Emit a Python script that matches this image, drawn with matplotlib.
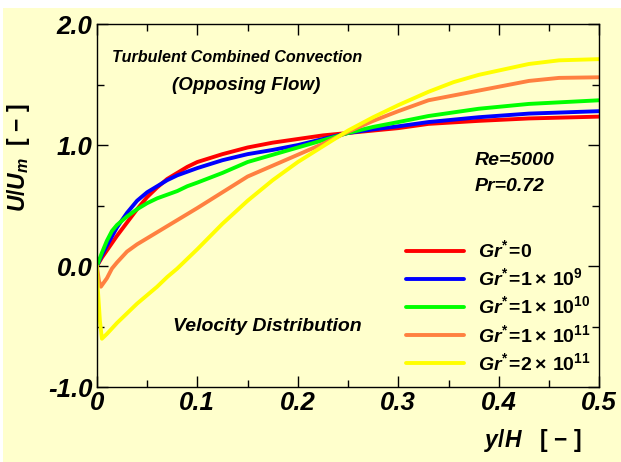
import numpy as np
import matplotlib
matplotlib.use("Agg")
import matplotlib.pyplot as plt
from matplotlib.patches import Rectangle

plt.rcParams['font.family'] = ['Liberation Sans', 'DejaVu Sans']
plt.rcParams['mathtext.fontset'] = 'custom'
plt.rcParams['mathtext.it'] = 'Liberation Sans:bold:italic'
plt.rcParams['mathtext.rm'] = 'Liberation Sans:bold'
plt.rcParams['mathtext.bf'] = 'Liberation Sans:bold'
plt.rcParams['axes.unicode_minus'] = False

# y/H positions and U/Um values
x_red = [0, 0.005, 0.01, 0.02, 0.03, 0.04, 0.05, 0.06, 0.07, 0.08, 0.09, 0.1, 0.125, 0.15, 0.175, 0.2,
         0.225, 0.25, 0.275, 0.3, 0.33, 0.38, 0.43, 0.5]
u_red = [0, 0.07, 0.13, 0.25, 0.36, 0.47, 0.57, 0.65, 0.72, 0.77, 0.82, 0.86, 0.925, 0.98, 1.02, 1.05,
         1.08, 1.10, 1.12, 1.14, 1.175, 1.20, 1.22, 1.235]

x_blue = [0, 0.005, 0.01, 0.02, 0.03, 0.04, 0.05, 0.06, 0.07, 0.08, 0.09, 0.1, 0.125, 0.15, 0.175, 0.2,
          0.225, 0.25, 0.275, 0.3, 0.33, 0.38, 0.43, 0.5]
u_blue = [0, 0.09, 0.17, 0.32, 0.44, 0.54, 0.61, 0.66, 0.71, 0.75, 0.78, 0.81, 0.875, 0.925, 0.96, 1.00,
          1.05, 1.10, 1.13, 1.155, 1.19, 1.23, 1.26, 1.28]

x_green = [0, 0.005, 0.01, 0.015, 0.02, 0.03, 0.04, 0.05, 0.06, 0.07, 0.08, 0.09, 0.1, 0.125, 0.15, 0.175,
           0.2, 0.225, 0.25, 0.275, 0.3, 0.33, 0.38, 0.43, 0.5]
u_green = [0, 0.11, 0.21, 0.29, 0.34, 0.41, 0.47, 0.52, 0.56, 0.59, 0.62, 0.66, 0.69, 0.77, 0.86, 0.92,
           0.98, 1.04, 1.10, 1.15, 1.19, 1.24, 1.30, 1.34, 1.37]

x_orange = [0, 0.002, 0.004, 0.01, 0.015, 0.02, 0.03, 0.04, 0.05, 0.06, 0.07, 0.08, 0.09, 0.1, 0.125, 0.15,
            0.175, 0.2, 0.225, 0.25, 0.275, 0.3, 0.33, 0.38, 0.43, 0.46, 0.5]
u_orange = [0, -0.12, -0.17, -0.10, -0.02, 0.03, 0.12, 0.18, 0.23, 0.28, 0.33, 0.38, 0.43, 0.48, 0.61, 0.74,
            0.83, 0.92, 1.01, 1.11, 1.20, 1.28, 1.37, 1.45, 1.53, 1.555, 1.56]

x_yellow = [0, 0.001, 0.003, 0.005, 0.01, 0.02, 0.03, 0.04, 0.05, 0.06, 0.07, 0.08, 0.09, 0.1, 0.125, 0.15,
            0.175, 0.2, 0.225, 0.25, 0.275, 0.3, 0.33, 0.355, 0.38, 0.43, 0.46, 0.5]
u_yellow = [0, -0.2, -0.45, -0.6, -0.56, -0.47, -0.39, -0.31, -0.24, -0.17, -0.09, -0.02, 0.06, 0.14, 0.35, 0.54,
            0.71, 0.86, 0.99, 1.12, 1.23, 1.33, 1.44, 1.52, 1.58, 1.67, 1.70, 1.71]

labels = [r"$Gr^{*}\!=\!0$",
          r"$Gr^{*}\!=\!1\times\,10^{9}$",
          r"$Gr^{*}\!=\!1\times\,10^{10}$",
          r"$Gr^{*}\!=\!1\times\,10^{11}$",
          r"$Gr^{*}\!=\!2\times\,10^{11}$"]
colors = ["#ff0000", "#0000ff", "#00ff00", "#ff8040", "#ffff00"]

bg = "#ffffcc"
fig = plt.figure(figsize=(6.21, 4.62), dpi=100, facecolor="white")
fig.patches.append(Rectangle((3 / 621, 0), 1, 1 - 8 / 462, transform=fig.transFigure,
                             facecolor=bg, edgecolor="none", zorder=-10))
ax = fig.add_axes([0.156, 0.162, 0.809, 0.786], facecolor=bg)

series = [(x_red, u_red), (x_blue, u_blue), (x_green, u_green), (x_orange, u_orange), (x_yellow, u_yellow)]
for (xs, us), c, lab in zip(series, colors, labels):
    ax.plot(xs, us, color=c, lw=2.8, label=lab, solid_capstyle='round', solid_joinstyle='round')

ax.set_xlim(0, 0.5)
ax.set_ylim(-1.0, 2.0)
ax.set_xticks([0, 0.1, 0.2, 0.3, 0.4, 0.5])
ax.set_xticklabels(["0", "0.1", "0.2", "0.3", "0.4", "0.5"])
ax.set_xticks(np.arange(0.05, 0.5, 0.1), minor=True)
ax.set_yticks([-1, 0, 1, 2])
ax.set_yticklabels(["-1.0", "0.0", "1.0", "2.0"])
ax.set_yticks([-0.5, 0.5, 1.5], minor=True)
ax.tick_params(which='both', direction='in', top=True, right=True, width=1.0)
ax.tick_params(which='major', length=8, pad=3)
ax.tick_params(which='minor', length=5)
for t in ax.get_xticklabels() + ax.get_yticklabels():
    t.set_fontsize(18.5)
    t.set_fontweight('bold')
    t.set_fontstyle('italic')
for s in ax.spines.values():
    s.set_linewidth(1.0)

fig.text(0.03, 0.66, r"$U/U_m$  [ $-$ ]", rotation=90, fontsize=16.5,
         fontweight='bold', ha='center', va='center')
fig.text(0.858, 0.047, r"$y/H$   [ $-$ ]", fontsize=16.5,
         fontweight='bold', ha='center', va='center')

tkw = dict(fontweight='bold', fontstyle='italic', transform=fig.transFigure)
fig.text(0.382, 0.876, "Turbulent Combined Convection", ha='center', va='center', fontsize=11.6, **tkw)
fig.text(0.396, 0.814, "(Opposing Flow)", ha='center', va='center', fontsize=13.5, **tkw)
fig.text(0.765, 0.652, "Re=5000", ha='left', va='center', fontsize=14, **tkw)
fig.text(0.765, 0.596, "Pr=0.72", ha='left', va='center', fontsize=14, **tkw)
fig.text(0.43, 0.294, "Velocity Distribution", ha='center', va='center', fontsize=14, **tkw)

leg = ax.legend(loc='upper left', bbox_to_anchor=(0.58, 0.455), frameon=False,
                fontsize=14, handlelength=3.0, labelspacing=0.32, handletextpad=0.7)

fig.savefig("out.png", dpi=100, facecolor=fig.get_facecolor())
